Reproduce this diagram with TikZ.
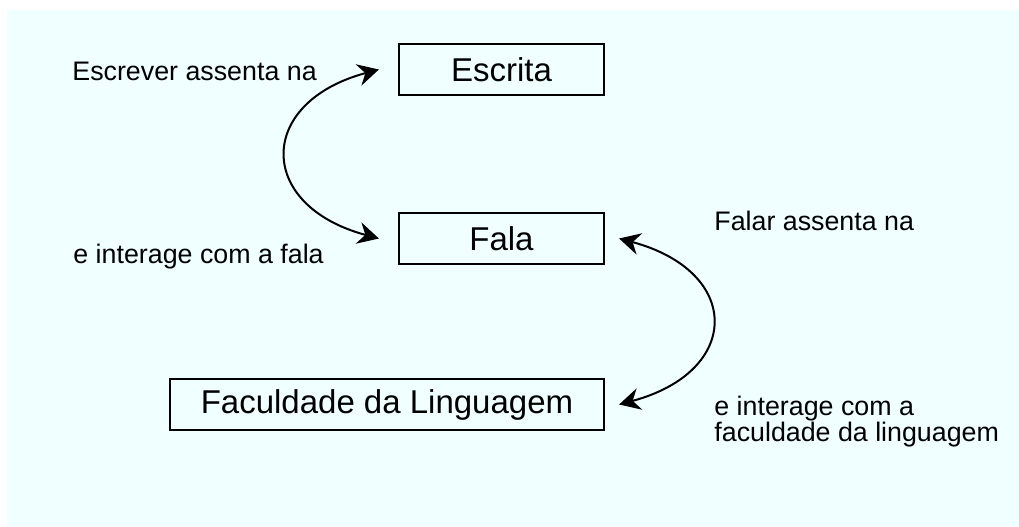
\documentclass[tikz,border=0pt]{standalone}
\usepackage{fontspec}
\setmainfont{Liberation Sans}
\usetikzlibrary{arrows.meta}

\definecolor{fundo}{RGB}{240,255,255}

\begin{document}
\begin{tikzpicture}[x=0.5pt,y=0.5pt,
	caixa/.style={draw=black, line width=1.1pt, minimum height=25.5pt, inner sep=0pt,
		font=\fontsize{16.5}{19}\selectfont},
	rotulo/.style={anchor=base west, inner sep=0pt, align=left,
		font=\fontsize{13.4}{13}\selectfont},
	liga/.style={line width=1pt, {Stealth[length=10.5pt,width=11pt,inset=3.5pt]}-{Stealth[length=10.5pt,width=11pt,inset=3.5pt]}}
	]
	\useasboundingbox (0,0) rectangle (1019,526);
	\fill[fundo] (7,0) rectangle (1019,516);

	% caixas
	\node[caixa, minimum width=102.5pt] (escrita) at (501.5,456.5) {Escrita};
	\node[caixa, minimum width=102.5pt] (fala) at (501.5,287.5) {Fala};
	\node[caixa, minimum width=217pt] (faculdade) at (387,121.5) {Faculdade da Linguagem};

	% setas
	\draw[liga] ([xshift=-9.5pt]escrita.west) to[out=195, in=165, looseness=1.93] ([xshift=-9.5pt]fala.west);
	\draw[liga] ([xshift=7pt]fala.east) to[out=-15, in=15, looseness=1.97] ([xshift=7pt]faculdade.east);

	% textos
	\node[rotulo] (escrever) at (72,445) {Escrever assenta na};
	\node[rotulo] (interfala) at (73,263) {e interage com a fala};
	\node[rotulo] (falar) at (714,295) {Falar assenta na};
	\node[rotulo] (interfac) at (714,85) {e interage com a\\faculdade da linguagem};
\end{tikzpicture}
\end{document}
